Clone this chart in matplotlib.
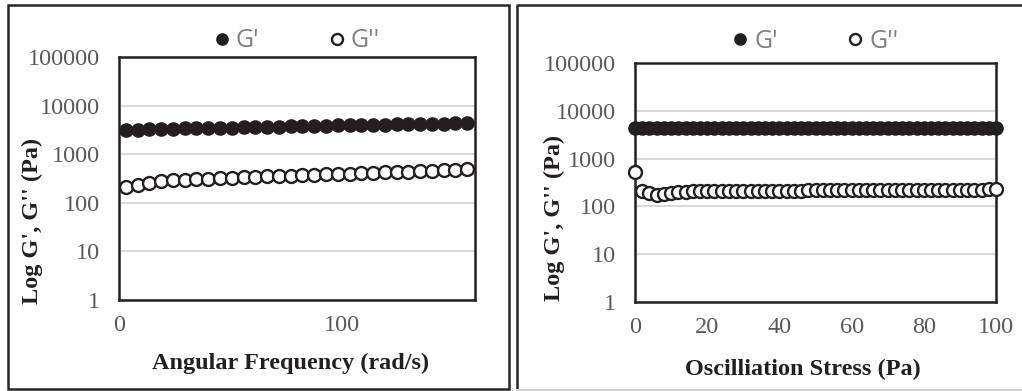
import matplotlib
matplotlib.use("Agg")
import matplotlib.pyplot as plt
from matplotlib.patches import Rectangle
from matplotlib.lines import Line2D
from matplotlib.ticker import FixedLocator, FuncFormatter

# left panel: frequency sweep
freq = [3.1, 8.4, 13.7, 19.0, 24.3, 29.6, 34.8, 40.1, 45.4, 50.7,
        56.0, 61.3, 66.6, 71.9, 77.2, 82.4, 87.7, 93.0, 98.3, 103.6,
        108.9, 114.2, 119.5, 124.8, 130.1, 135.3, 140.6, 145.9, 151.2, 156.5]
freq_g1 = [3100, 3200, 3250, 3300, 3350, 3380, 3420, 3460, 3500, 3540,
           3580, 3620, 3660, 3700, 3740, 3780, 3820, 3860, 3900, 3940,
           3980, 4020, 4060, 4100, 4140, 4180, 4220, 4260, 4300, 4350]
freq_g2 = [210, 235, 260, 280, 295, 300, 305, 310, 318, 325,
           332, 340, 348, 355, 362, 370, 378, 385, 392, 400,
           408, 415, 422, 430, 438, 445, 455, 465, 475, 495]

# right panel: stress sweep
stress = [0, 2, 4, 6, 8, 10, 12, 14, 16, 18, 20, 22, 24, 26, 28, 30, 32, 34,
          36, 38, 40, 42, 44, 46, 48, 50, 52, 54, 56, 58, 60, 62, 64, 66, 68,
          70, 72, 74, 76, 78, 80, 82, 84, 86, 88, 90, 92, 94, 96, 98, 100]
stress_g1 = [4300, 4300, 4300, 4300, 4300, 4300, 4300, 4300, 4300, 4300,
             4300, 4300, 4300, 4300, 4300, 4300, 4300, 4300, 4300, 4300,
             4280, 4280, 4280, 4280, 4280, 4280, 4280, 4280, 4280, 4280,
             4280, 4280, 4280, 4280, 4280, 4280, 4280, 4280, 4280, 4280,
             4280, 4280, 4280, 4280, 4280, 4280, 4280, 4280, 4280, 4280, 4280]
stress_g2 = [520, 215, 187, 174, 178, 187, 196, 202, 205, 207,
             208, 209, 210, 210, 211, 211, 212, 212, 213, 213,
             214, 214, 215, 215, 216, 216, 217, 217, 218, 218,
             219, 219, 220, 220, 221, 221, 222, 222, 222, 223,
             223, 223, 224, 224, 224, 225, 225, 225, 225, 226, 226]

dark = "#231f20"
tick_col = "#595959"
serif = ["Liberation Serif", "DejaVu Serif"]

fig = plt.figure(figsize=(10.22, 3.91), dpi=100)

# panel frames
fig.patches.append(Rectangle((8 / 1022, 1 - 389 / 391), 501 / 1022, 384 / 391,
                             transform=fig.transFigure, fill=False,
                             edgecolor="#262626", lw=1.8))
fig.lines.append(Line2D([517 / 1022, 517 / 1022, 1.0], [1 - 390 / 391, 1 - 5 / 391, 1 - 5 / 391],
                        transform=fig.transFigure, color="#262626", lw=1.8))
fig.lines.append(Line2D([517 / 1022, 1.0], [1 - 389.5 / 391, 1 - 389.5 / 391],
                        transform=fig.transFigure, color="#d0d0d0", lw=1.5))

ax1 = fig.add_axes([119 / 1022, 1 - 300 / 391, 356 / 1022, 243 / 391])
ax2 = fig.add_axes([635 / 1022, 1 - 302 / 391, 361 / 1022, 239 / 391])


def style(ax, xs, g1, g2, xlim, xticks, xlabel, ylab_x, ylab_y, xlab_x, xlab_y, leg_y):
    ax.plot(xs, g1, "o", ms=9.3, mfc=dark, mec=dark, mew=1.2, label="G'", clip_on=False, zorder=3)
    ax.plot(xs, g2, "o", ms=9.3, mfc="white", mec=dark, mew=1.7, label="G''", clip_on=False, zorder=3)
    ax.set_yscale("log")
    ax.set_ylim(1, 100000)
    ax.set_xlim(*xlim)
    ax.yaxis.set_major_locator(FixedLocator([1, 10, 100, 1000, 10000, 100000]))
    ax.yaxis.set_minor_locator(FixedLocator([]))
    ax.yaxis.set_major_formatter(FuncFormatter(lambda v, p: "%d" % round(v)))
    ax.set_xticks(xticks)
    ax.tick_params(length=0, labelsize=17.5, labelcolor=tick_col)
    ax.tick_params(axis="y", pad=14)
    ax.tick_params(axis="x", pad=11)
    for lab in ax.get_xticklabels() + ax.get_yticklabels():
        lab.set_family(serif)
    ax.grid(axis="y", color="#d9d9d9", lw=1.5)
    ax.set_axisbelow(True)
    for s in ax.spines.values():
        s.set_color(dark)
        s.set_linewidth(1.8)
    ax.set_ylabel("Log G', G'' (Pa)", family=serif, fontsize=17.5, fontweight="bold", color=dark)
    ax.yaxis.set_label_coords(ylab_x, ylab_y)
    ax.set_xlabel(xlabel, family=serif, fontsize=17.5, fontweight="bold", color=dark)
    ax.xaxis.set_label_coords(xlab_x, xlab_y)
    leg = ax.legend(loc="center", bbox_to_anchor=(0.5, leg_y), ncol=2, frameon=False,
                    handlelength=0.6, handletextpad=0.25, columnspacing=2.8,
                    markerscale=0.85,
                    prop={"family": ["Open Sans", "DejaVu Sans"], "size": 18})
    for t in leg.get_texts():
        t.set_color("#7f7f7f")


style(ax1, freq, freq_g1, freq_g2, (0, 160), [0, 100],
      "Angular Frequency (rad/s)", -0.213, 0.325, 0.483, -0.218, 1.066)
style(ax2, stress, stress_g1, stress_g2, (0, 100), [0, 20, 40, 60, 80, 100],
      "Oscilliation Stress (Pa)", -0.194, 0.35, 0.464, -0.238, 1.092)

fig.savefig("out.png", dpi=100)
